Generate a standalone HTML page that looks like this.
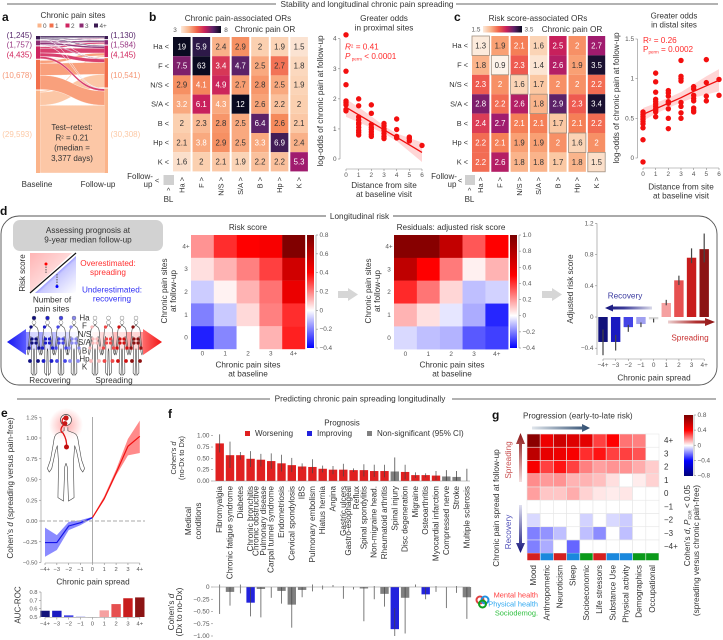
<!DOCTYPE html>
<html lang="en">
<head>
<meta charset="utf-8">
<title>Chronic pain spreading figure</title>
<style>
html,body{margin:0;padding:0;background:#fff;}
svg{display:block;font-family:"Liberation Sans",sans-serif;}
text{fill:#333;}
.t8{font-size:8.2px;}
.t75{font-size:8px;}
.t7{font-size:7.4px;}
.tick{font-size:6.4px;fill:#555;}
#panelE .tick{font-size:5.8px;}
.cell{font-size:7.8px;}
.panel{font-size:12px;font-weight:bold;fill:#111;}
.red{fill:#ff2a2a;}
.blue{fill:#3a3af0;}
</style>
</head>
<body>
<svg id="fig" width="723" height="640" viewBox="0 0 723 640">
<defs>
<linearGradient id="cbMagma" x1="0" x2="1" y1="0" y2="0">
<stop offset="0" stop-color="#fde9da"/><stop offset=".2" stop-color="#f9b48b"/><stop offset=".4" stop-color="#f0624a"/><stop offset=".6" stop-color="#c8205c"/><stop offset=".8" stop-color="#5c2268"/><stop offset="1" stop-color="#0a0a20"/>
</linearGradient>
<linearGradient id="cbRisk" x1="0" x2="0" y1="1" y2="0">
<stop offset="0" stop-color="#0000ff"/><stop offset=".333" stop-color="#fff"/><stop offset=".667" stop-color="#f00"/><stop offset="1" stop-color="#7a0000"/>
</linearGradient>
<linearGradient id="cbResid" x1="0" x2="0" y1="1" y2="0">
<stop offset="0" stop-color="#0000ff"/><stop offset=".286" stop-color="#fff"/><stop offset=".643" stop-color="#f00"/><stop offset="1" stop-color="#7a0000"/>
</linearGradient>
<linearGradient id="cbG" x1="0" x2="0" y1="1" y2="0">
<stop offset="0" stop-color="#00007a"/><stop offset=".25" stop-color="#00f"/><stop offset=".5" stop-color="#fff"/><stop offset=".75" stop-color="#f00"/><stop offset="1" stop-color="#7a0000"/>
</linearGradient>
<linearGradient id="triRed" x1="0" x2="1" y1="0" y2="1"><stop offset="0" stop-color="#ffb4b4"/><stop offset=".5" stop-color="#ffd8d8"/><stop offset=".55" stop-color="#ff8080"/></linearGradient>
<linearGradient id="triBlue" x1="1" x2="0" y1="1" y2="0"><stop offset="0" stop-color="#fff"/><stop offset=".45" stop-color="#c8c8ff"/><stop offset=".55" stop-color="#7070ff"/></linearGradient>
<linearGradient id="arrRecovery" gradientUnits="userSpaceOnUse" x1="652" x2="605" y1="0" y2="0"><stop offset="0" stop-color="#d8d8e8"/><stop offset=".6" stop-color="#3a3a98"/><stop offset="1" stop-color="#12127a"/></linearGradient>
<linearGradient id="arrSpread" gradientUnits="userSpaceOnUse" x1="668" x2="715" y1="0" y2="0"><stop offset="0" stop-color="#ecd0d0"/><stop offset=".6" stop-color="#b03030"/><stop offset="1" stop-color="#8c1414"/></linearGradient>
<linearGradient id="arrProg" gradientUnits="userSpaceOnUse" x1="532" x2="590" y1="0" y2="0"><stop offset="0" stop-color="#e0e6ec"/><stop offset="1" stop-color="#2c4a6e"/></linearGradient>
<linearGradient id="arrUp" gradientUnits="userSpaceOnUse" x1="0" x2="0" y1="482" y2="433"><stop offset="0" stop-color="#f4e0e0"/><stop offset="1" stop-color="#8c1414"/></linearGradient>
<linearGradient id="arrDown" gradientUnits="userSpaceOnUse" x1="0" x2="0" y1="505" y2="553"><stop offset="0" stop-color="#e0e0f0"/><stop offset="1" stop-color="#12127a"/></linearGradient>
<linearGradient id="glowBlue" x1="0" x2="1" y1="0" y2="0"><stop offset="0" stop-color="#2a2aff" stop-opacity=".55"/><stop offset="1" stop-color="#2a2aff" stop-opacity=".08"/></linearGradient>
<linearGradient id="glowRed" x1="0" x2="1" y1="0" y2="0"><stop offset="0" stop-color="#ff2a2a" stop-opacity=".08"/><stop offset="1" stop-color="#ff2a2a" stop-opacity=".55"/></linearGradient>
<linearGradient id="triL" x1="0" x2="1" y1="0" y2="0"><stop offset="0" stop-color="#1515f0"/><stop offset="1" stop-color="#5a5aff"/></linearGradient>
<linearGradient id="triR" x1="0" x2="1" y1="0" y2="0"><stop offset="0" stop-color="#ff6a6a"/><stop offset="1" stop-color="#f01515"/></linearGradient>
<radialGradient id="glowE"><stop offset="0" stop-color="#ff4040" stop-opacity=".45"/><stop offset="1" stop-color="#ff4040" stop-opacity="0"/></radialGradient>
<symbol id="bodyShape" overflow="visible">
<path d="M-3 15V19L-14 22Q-19 24-20 32L-25 52-30 62-27 66-23 62-17 42-14 36-12 55-13 95-4 99-2 60 0 56 2 60 4 99 13 95 12 55 14 36 17 42 23 62 27 66 30 62 25 52 20 32Q19 24 14 22L3 19V15" fill="#fff" fill-opacity=".6" stroke="#444" stroke-width=".6" vector-effect="non-scaling-stroke" stroke-linejoin="round"/>
</symbol>
</defs>

<!-- section rules -->
<g>
<line x1="7" x2="276" y1="4" y2="4" stroke="#666"/>
<line x1="456" x2="718" y1="4" y2="4" stroke="#666"/>
<text x="367" y="7" text-anchor="middle" class="t8">Stability and longitudinal chronic pain spreading</text>
<line x1="17" x2="270" y1="399" y2="399" stroke="#666"/>
<line x1="452" x2="716" y1="399" y2="399" stroke="#666"/>
<text x="360" y="401.5" text-anchor="middle" class="t8">Predicting chronic pain spreading longitudinally</text>
<text x="2" y="21" class="panel">a</text>
<text x="149" y="21" class="panel">b</text>
<text x="454" y="21" class="panel">c</text>
<text x="0" y="215" class="panel">d</text>
<text x="1" y="417" class="panel">e</text>
<text x="168" y="418" class="panel">f</text>
<text x="492" y="419" class="panel">g</text>
</g>

<!-- panel a -->
<g id="panelA">
<text x="73" y="18" text-anchor="middle" class="t8">Chronic pain sites</text>
<g id="sankeyLegend"></g>
<g id="sankeyFlows"></g>
<text x="72" y="130" text-anchor="middle" class="t75">Test–retest:</text>
<text x="72" y="140.5" text-anchor="middle" class="t75">R<tspan dy="-2" font-size="4.5">2</tspan><tspan dy="2"> = 0.21</tspan></text>
<text x="72" y="150.5" text-anchor="middle" class="t75">(median =</text>
<text x="72" y="161" text-anchor="middle" class="t75">3,377 days)</text>
<text x="37" y="187" text-anchor="middle" class="t75">Baseline</text>
<text x="98" y="187" text-anchor="middle" class="t75">Follow-up</text>
</g>

<!-- panel b -->
<g id="panelB">
<text x="238" y="21" text-anchor="middle" class="t8">Chronic pain-associated ORs</text>
<rect x="181" y="26" width="40" height="7" fill="url(#cbMagma)"/>
<text x="175" y="32" text-anchor="middle" class="tick">3</text>
<text x="226" y="32" text-anchor="middle" class="tick">8</text>
<text x="265" y="32" text-anchor="middle" class="t8">Chronic pain OR</text>
<text x="140" y="179" text-anchor="middle" class="t75">Follow-</text>
<text x="148" y="187" text-anchor="middle" class="t75">up</text>
<text x="157" y="183" text-anchor="middle" class="t7">&lt;</text>
<rect x="163.5" y="175" width="10.5" height="10" fill="#d0d0d0"/>
<text x="168.5" y="193" text-anchor="middle" class="t7">^</text>
<text x="168.5" y="202" text-anchor="middle" class="t75">BL</text>
</g>

<!-- panel b scatter -->
<g id="scatterB">
<text x="384" y="21" text-anchor="middle" class="t8">Greater odds</text>
<text x="384" y="30.5" text-anchor="middle" class="t8">in proximal sites</text>
<text transform="translate(323,101) rotate(-90)" text-anchor="middle" class="t8">log-odds of chronic pain at follow-up</text>
<text x="384" y="188" text-anchor="middle" class="t8">Distance from site</text>
<text x="384" y="197" text-anchor="middle" class="t8">at baseline visit</text>
<text x="345" y="49.5" class="t8 red"><tspan font-style="italic">R</tspan><tspan dy="-2" font-size="4.5">2</tspan><tspan dy="2"> = 0.41</tspan></text>
<text x="345" y="59" class="t8 red"><tspan font-style="italic">P</tspan><tspan dy="1.5" font-size="4.5"> perm</tspan><tspan dy="-1.5"> &lt; 0.0001</tspan></text>
</g>

<!-- panel c -->
<g id="panelC">
<text x="538" y="21" text-anchor="middle" class="t8">Risk score-associated ORs</text>
<rect x="483" y="26" width="39" height="6.5" fill="url(#cbMagma)"/>
<text x="476" y="31.5" text-anchor="middle" class="tick">1.5</text>
<text x="529" y="31.5" text-anchor="middle" class="tick">3.5</text>
<text x="572" y="32" text-anchor="middle" class="t8">Chronic pain OR</text>
<text x="444" y="179" text-anchor="middle" class="t75">Follow-</text>
<text x="452" y="187" text-anchor="middle" class="t75">up</text>
<text x="460" y="183" text-anchor="middle" class="t7">&lt;</text>
<rect x="465" y="175" width="10" height="10" fill="#d0d0d0"/>
<text x="469.5" y="193" text-anchor="middle" class="t7">^</text>
<text x="469.5" y="202" text-anchor="middle" class="t75">BL</text>
</g>

<!-- panel c scatter -->
<g id="scatterC">
<text x="674" y="18.5" text-anchor="middle" class="t75">Greater odds</text>
<text x="674" y="27.5" text-anchor="middle" class="t75">in distal sites</text>
<text transform="translate(619,98) rotate(-90)" text-anchor="middle" class="t8">log-odds of chronic pain at follow-up</text>
<text x="681" y="189.5" text-anchor="middle" class="t8">Distance from site</text>
<text x="681" y="198.5" text-anchor="middle" class="t8">at baseline visit</text>
<text x="643" y="43" class="t8 red">R<tspan dy="-2" font-size="4.5">2</tspan><tspan dy="2"> = 0.26</tspan></text>
<text x="643" y="52" class="t8 red">P<tspan dy="1.5" font-size="4.5">perm</tspan><tspan dy="-1.5"> = 0.0002</tspan></text>
</g>

<!-- panel d box -->
<g id="panelD">
<rect x="1" y="216" width="716" height="169" rx="18" fill="none" stroke="#555" stroke-width=".9"/>
<rect x="326" y="211" width="67" height="10" fill="#fff"/>
<text x="359.5" y="219" text-anchor="middle" class="t8">Longitudinal risk</text>
<rect x="13" y="220" width="150" height="31" rx="7" fill="#d2d2d2"/>
<text x="88" y="233" text-anchor="middle" class="t8">Assessing prognosis at</text>
<text x="88" y="242.5" text-anchor="middle" class="t8">9-year median follow-up</text>
<polygon points="30,253 72,253 30,292" fill="url(#triRed)"/>
<polygon points="76,256 76,293 35,293" fill="url(#triBlue)"/>
<line x1="30" y1="293" x2="76" y2="253" stroke="#111" stroke-width="1.2"/>
<line x1="46" y1="264" x2="46" y2="274" stroke="#555" stroke-width="1" stroke-dasharray="1.5 1"/>
<circle cx="46" cy="264" r="1.5" fill="#f00"/>
<line x1="57" y1="274" x2="57" y2="286" stroke="#555" stroke-width="1" stroke-dasharray="1.5 1"/>
<circle cx="57" cy="286.5" r="1.5" fill="#00f"/>
<text transform="translate(25,273) rotate(-90)" text-anchor="middle" class="t75">Risk score</text>
<text x="52" y="302.5" text-anchor="middle" class="t8">Number of</text>
<text x="52" y="311.5" text-anchor="middle" class="t8">pain sites</text>
<text x="108" y="266" text-anchor="middle" class="t8" style="fill:#ff3030">Overestimated:</text>
<text x="108" y="275" text-anchor="middle" class="t8" style="fill:#ff3030">spreading</text>
<text x="112" y="292.5" text-anchor="middle" class="t8" style="fill:#3030f5">Underestimated:</text>
<text x="112" y="301.5" text-anchor="middle" class="t8" style="fill:#3030f5">recovering</text>
<rect x="26" y="332" width="52" height="18" fill="url(#glowBlue)"/>
<rect x="92" y="332" width="52" height="18" fill="url(#glowRed)"/>
<polygon points="7,342 26,329 26,355" fill="url(#triL)"/>
<polygon points="162,342 143,329 143,355" fill="url(#triR)"/>
<g id="bodies"></g>
<text x="50" y="383" text-anchor="middle" class="t8">Recovering</text>
<text x="114" y="383" text-anchor="middle" class="t8">Spreading</text>

<g id="riskHeat">
<text x="248" y="230" text-anchor="middle" class="t8">Risk score</text>
<text transform="translate(167,291) rotate(-90)" text-anchor="middle" class="t8">Chronic pain sites</text>
<text transform="translate(176,291) rotate(-90)" text-anchor="middle" class="t8">at follow-up</text>
<text x="248" y="367.5" text-anchor="middle" class="t8">Chronic pain sites</text>
<text x="248" y="376.5" text-anchor="middle" class="t8">at baseline</text>
<rect x="307" y="235" width="7" height="113" fill="url(#cbRisk)"/>
</g>
<path d="M338 291H348V288L358 294.5 348 301V298H338Z" fill="#d6d6d6"/>
<g id="residHeat">
<text x="451" y="230" text-anchor="middle" class="t8">Residuals: adjusted risk score</text>
<text transform="translate(371,291) rotate(-90)" text-anchor="middle" class="t8">Chronic pain sites</text>
<text transform="translate(380,291) rotate(-90)" text-anchor="middle" class="t8">at follow-up</text>
<text x="452" y="367.5" text-anchor="middle" class="t8">Chronic pain sites</text>
<text x="452" y="376.5" text-anchor="middle" class="t8">at baseline</text>
<rect x="510" y="235" width="7" height="113" fill="url(#cbResid)"/>
</g>
<path d="M542 291H552V288L562 294.5 552 301V298H542Z" fill="#d6d6d6"/>
<g id="spreadBars">
<text transform="translate(573,289) rotate(-90)" text-anchor="middle" class="t8">Adjusted risk score</text>
<text x="654" y="380.5" text-anchor="middle" class="t8">Chronic pain spread</text>
<text x="625" y="298.5" text-anchor="middle" class="t8" style="fill:#3b3ba0">Recovery</text>
<text x="690" y="340.5" text-anchor="middle" class="t8" style="fill:#c83030">Spreading</text>
<path d="M652 306.5H613V304.5L605 308 613 311.5V309.5H652Z" fill="url(#arrRecovery)"/>
<path d="M668 320.5H705V318L715 322 705 326V323.5H668Z" fill="url(#arrSpread)"/>
</g>
</g>

<!-- panel e -->
<g id="panelE">
<ellipse cx="66" cy="425" rx="17" ry="17" fill="url(#glowE)"/>
<circle cx="66" cy="420" r="5.5" fill="#fff" stroke="#444" stroke-width=".7"/>
<use href="#bodyShape" transform="translate(66,414) scale(.62,.88)"/>
<text transform="translate(13,488) rotate(-90)" text-anchor="middle" class="t8">Cohen's <tspan font-style="italic">d</tspan> (spreading versus pain-free)</text>
<text x="93" y="584.5" text-anchor="middle" class="t8">Chronic pain spread</text>
<text transform="translate(20.5,605) rotate(-90)" text-anchor="middle" class="t75">AUC-ROC</text>
<path d="M66 417C61 418 61 424 65 424 60 427 60 432 63 433 66 438 67 442 66.5 447" fill="none" stroke="#e01010" stroke-width="1.3"/>
<circle cx="66" cy="418" r="2.6" fill="#c81818"/>
<circle cx="65" cy="423.5" r="2.4" fill="#c81818"/>
<circle cx="66.5" cy="447" r="2.5" fill="#c01010"/>
</g>

<!-- panel f -->
<g id="panelF">
<text x="342" y="425.5" text-anchor="middle" class="t75">Prognosis</text>
<rect x="245" y="431" width="5" height="5" fill="#e02020"/>
<text x="255" y="436" class="t75">Worsening</text>
<rect x="307" y="431" width="5" height="5" fill="#2222dd"/>
<text x="317" y="436" class="t75">Improving</text>
<rect x="367" y="431" width="5" height="5" fill="#808080"/>
<text x="377" y="436" class="t75">Non-significant (95% CI)</text>
<text transform="translate(176,458) rotate(-90)" text-anchor="middle" class="t7">Cohen's <tspan font-style="italic">d</tspan></text>
<text transform="translate(184,458) rotate(-90)" text-anchor="middle" class="t7">(no-Dx to Dx)</text>
<text transform="translate(174,612) rotate(-90)" text-anchor="middle" class="t8">Cohen's <tspan font-style="italic">d</tspan></text>
<text transform="translate(182,612) rotate(-90)" text-anchor="middle" class="t8">(Dx to no-Dx)</text>
<text transform="translate(191,521) rotate(-90)" text-anchor="middle" class="t8">Medical</text>
<text transform="translate(201,521) rotate(-90)" text-anchor="middle" class="t8">conditions</text>
</g>

<!-- panel g -->
<g id="panelG">
<text x="523" y="418.5" class="t8">Progression (early-to-late risk)</text>
<path d="M532 426.5H582V424L590 428 582 432V429.5H532Z" fill="url(#arrProg)"/>
<text transform="translate(499,508) rotate(-90)" text-anchor="middle" class="t8">Chronic pain spread at follow-up</text>
<text transform="translate(511,460) rotate(-90)" text-anchor="middle" class="t8" style="fill:#c85050">Spreading</text>
<text transform="translate(511,532) rotate(-90)" text-anchor="middle" class="t8" style="fill:#5050b8">Recovery</text>
<path d="M519 482V444H516L520.5 433 525 444H522V482Z" fill="url(#arrUp)"/>
<path d="M519 505V543H516L520.5 553 525 543H522V505Z" fill="url(#arrDown)"/>
<rect x="684" y="415" width="9" height="61" fill="url(#cbG)"/>
<text transform="translate(690,485) rotate(-90)" text-anchor="end" class="t8">Cohen's <tspan font-style="italic">d</tspan>, <tspan font-style="italic">P</tspan><tspan dy="1.5" font-size="4.5">FDR</tspan><tspan dy="-1.5"> &lt; 0.05</tspan></text>
<text transform="translate(699,485) rotate(-90)" text-anchor="end" class="t8">(spreading versus chronic pain-free)</text>
<circle cx="480" cy="600" r="3.5" fill="none" stroke="#e04040" stroke-width="2"/>
<circle cx="485" cy="600" r="3.5" fill="none" stroke="#2090e0" stroke-width="2"/>
<circle cx="482.5" cy="604" r="3.5" fill="none" stroke="#10a020" stroke-width="2"/>
<text x="538" y="597.5" text-anchor="end" class="t7" style="fill:#ff4040">Mental health</text>
<text x="538" y="606.5" text-anchor="end" class="t7" style="fill:#30a8f0">Physical health</text>
<text x="538" y="615.5" text-anchor="end" class="t7" style="fill:#30c040">Sociodemog.</text>
</g>
</svg>

<script>
/* ---------- data ---------- */
const sankeyCategories = ['0', '1', '2', '3', '4+'];
const sankeyBaseline = [29593, 10678, 4435, 1757, 1245];
const sankeyFollowUp = [30308, 10541, 4145, 1584, 1130];
const sankeyFlowMatrix = [
  [24300, 4700, 500, 70, 23],
  [5100, 4300, 1000, 200, 78],
  [800, 1250, 1700, 500, 185],
  [80, 230, 650, 550, 247],
  [28, 61, 295, 264, 597]
];

const siteLabels = ['Ha', 'F', 'N/S', 'S/A', 'B', 'Hp', 'K'];
const painOrValues = [
  [19, 5.9, 2.4, 2.9, 2, 1.9, 1.5],
  [7.5, 63, 3.4, 4.7, 2.5, 2.7, 1.8],
  [2.9, 4.1, 4.9, 2.7, 2.8, 2.5, 1.9],
  [3.2, 6.1, 4.3, 12, 2.6, 2.2, 2],
  [2, 2.3, 2.8, 2.5, 6.4, 2.6, 2.1],
  [2.1, 3.8, 2.9, 2.5, 3.3, 6.9, 2.4],
  [1.6, 2, 2.1, 1.9, 2.2, 2.2, 5.3]
];
/* the printed OR and the cell shade differ slightly in the source; these offsets are the shade residuals */
const painOrShadeOffsets = [
  [0, 2.3, 0, 0, 0, 0, 0],
  [-1, 0, 1.2, 2.3, 0, 0.8, 0],
  [0, -1, 0, 0, 0, 0, 0],
  [-0.7, -1.1, -1.8, 0, 0, 0, 0],
  [0, 0, 0, 0, 0.6, 0.4, 0],
  [0, -1.3, 0, 0, -0.8, 0.7, 0],
  [0, 0, 0, 0, 0, 0, 0.7]
];
const riskOrValues = [
  [1.3, 1.9, 2.1, 1.6, 2.5, 2, 2.7],
  [1.8, 0.9, 2.3, 1.4, 2.6, 1.9, 3.5],
  [2.3, 2, 1.6, 1.7, 2, 2, 2.2],
  [2.8, 2.2, 2.6, 1.8, 2.9, 2.3, 3.4],
  [2.4, 2.7, 2.1, 2.1, 1.7, 2.1, 2.2],
  [2.2, 2.1, 1.9, 1.9, 2, 1.6, 2],
  [2.2, 2.6, 1.8, 1.8, 1.7, 1.8, 1.5]
];

const distanceTicks = [0, 1, 2, 3, 4, 5, 6];
const proximalTicks = [0, 1, 2, 3, 4];
const proximalPoints = [
  [4.13, 2.92, 2.47, 1.93, 1.87, 1.8, 1.65, 1.6],
  [2.0, 1.77, 1.4, 1.3, 1.2, 1.15, 1.05, 0.95, 0.88, 0.8],
  [1.8, 1.52, 1.15, 1.05, 0.98, 0.9, 0.82, 0.75],
  [1.18, 1.1, 1.0, 0.95, 0.85, 0.75, 0.68],
  [1.33, 0.98, 0.75, 0.7],
  [0.73, 0.68, 0.6],
  [0.45]
];
const proximalFit = [1.72, 1.47, 1.22, 0.97, 0.72, 0.47, 0.22];
const proximalBandLow = [1.4, 1.22, 1.04, 0.85, 0.6, 0.25, -0.1];
const proximalBandHigh = [2.0, 1.72, 1.42, 1.1, 0.85, 0.7, 0.55];

const distalTicks = [0, 0.5, 1, 1.5];
const distalPoints = [
  [0.58, 0.55, 0.52, 0.49, 0.46, 0.43, 0.38, 0.23, -0.05],
  [1.07, 0.96, 0.83, 0.74, 0.71, 0.68, 0.65, 0.62, 0.6, 0.58, 0.52],
  [0.85, 0.82, 0.78, 0.71, 0.69, 0.62, 0.5, 0.37],
  [1.23, 1.03, 1.0, 0.97, 0.7, 0.65, 0.57, 0.5],
  [0.9, 0.87, 0.79, 0.75, 0.72, 0.63, 0.6, 0.58],
  [1.24, 0.95, 0.78, 0.72],
  [0.99, 0.79]
];
const distalFit = [0.55, 0.62, 0.69, 0.76, 0.84, 0.91, 0.98];
const distalBandLow = [0.47, 0.56, 0.63, 0.7, 0.76, 0.8, 0.84];
const distalBandHigh = [0.63, 0.69, 0.76, 0.83, 0.93, 1.03, 1.12];

const baselineSites = ['0', '1', '2', '3', '4+'];
const followUpSites = ['4+', '3', '2', '1', '0'];
const riskScoreGrid = [
  [0.17, 0.33, 0.4, 0.42, 0.78],
  [0.05, 0.12, 0.2, 0.3, 0.54],
  [-0.08, 0.02, 0.12, 0.22, 0.46],
  [-0.2, -0.085, 0.06, 0.2, 0.33],
  [-0.35, -0.19, 0, 0.12, 0.35]
];
const riskColorbarTicks = [0.8, 0.6, 0.4, 0.2, 0, -0.2, -0.4];
const residualGrid = [
  [0.95, 0.95, 0.73, 0.33, 0.5],
  [0.74, 0.5, 0.26, 0.03, 0.15],
  [0.42, 0.27, 0.08, -0.1, -0.07],
  [0.15, 0.06, -0.04, -0.13, -0.34],
  [-0.06, -0.1, -0.12, -0.26, -0.3]
];
const residualColorbarTicks = [1.0, 0.8, 0.6, 0.4, 0.2, 0, -0.2, -0.4];

const spreadCategories = ['\u22124+', '\u22123', '\u22122', '\u22121', '0', '1', '2', '3', '4+'];
const adjustedRisk = [-0.32, -0.32, -0.13, -0.09, -0.03, 0.18, 0.47, 0.76, 0.87];
const adjustedRiskLow = [-0.49, -0.43, -0.19, -0.13, -0.07, 0.15, 0.41, 0.69, 0.7];
const adjustedRiskHigh = [-0.16, -0.23, -0.1, -0.07, -0.02, 0.22, 0.53, 0.88, 1.07];
const adjustedRiskTicks = [1.2, 0.8, 0.4, 0, -0.4];

const effectTicks = [1.25, 1, 0.75, 0.5, 0.25, 0, -0.25, -0.5];
const effectBlue = [-0.26, -0.26, -0.06, -0.02, 0.04];
const effectBlueLow = [-0.43, -0.35, -0.11, -0.05, 0.03];
const effectBlueHigh = [-0.08, -0.17, -0.01, 0.01, 0.05];
const effectRed = [0.04, 0.27, 0.58, 0.9, 1.02];
const effectRedLow = [0.03, 0.25, 0.55, 0.79, 0.82];
const effectRedHigh = [0.05, 0.3, 0.62, 0.99, 1.21];
const aucTicks = [0.8, 0.7, 0.6, 0.5];
const aucValues = [0.575, 0.575, 0.52, 0.505, 0.5, 0.58, 0.655, 0.725, 0.735];

const conditionNames = ['Fibromyalgia', 'Chronic fatigue syndrome', 'Diabetes', 'Chronic bronchitis', 'Chronic obstructive|Pulmonary disease', 'Carpal tunnel syndrome', 'Endometriosis', 'Cervical spondylosis', 'IBS', 'Pulmonary embolism', 'Hiatus hernia', 'Angina', 'Gastric ulcers', 'Gastro-esophageal|Reflux', 'Spinal spondylitis', 'Non-migraine head.', 'Rheumatoid arthritis', 'Spinal injury', 'Disc degeneration', 'Migraine', 'Osteoarthritis', 'Myocardial infarction', 'Compressed nerve', 'Stroke', 'Multiple sclerosis'];
const onsetD = [0.83, 0.57, 0.57, 0.49, 0.47, 0.44, 0.39, 0.35, 0.32, 0.31, 0.27, 0.25, 0.25, 0.24, 0.24, 0.22, 0.22, 0.21, 0.2, 0.13, 0.13, 0.12, 0.1, 0.09, 0];
const onsetLow = [0.63, 0.29, 0.47, 0.31, 0.32, 0.27, 0.21, 0.2, 0.26, 0.17, 0.19, 0.15, 0.1, 0.2, 0.1, 0.09, 0.08, 0, 0.04, 0.07, 0.08, 0.02, 0, 0, 0];
const onsetHigh = [1.03, 0.87, 0.64, 0.66, 0.6, 0.61, 0.58, 0.51, 0.39, 0.48, 0.34, 0.33, 0.38, 0.28, 0.37, 0.36, 0.36, 0.52, 0.36, 0.19, 0.17, 0.22, 0.24, 0.22, 0.27];
const onsetStatus = ['W', 'W', 'W', 'W', 'W', 'W', 'W', 'W', 'W', 'W', 'W', 'W', 'W', 'W', 'W', 'W', 'W', 'N', 'W', 'W', 'W', 'W', 'N', 'N', 'N'];
const remitD = [0, -0.1, 0, -0.32, -0.04, 0, -0.08, -0.36, -0.06, 0, 0, 0, 0, 0, -0.03, 0, -0.14, -0.86, -0.22, 0, -0.15, 0, 0, 0, -0.21];
const remitLow = [-0.55, -0.38, -0.13, -0.6, -0.62, -0.22, -0.34, -0.83, -0.21, -0.09, -0.05, 0, -0.24, -0.05, -0.7, -0.25, -0.4, -1.0, -0.95, 0, -0.25, -0.1, -0.43, -0.12, -0.65];
const remitHigh = [0.05, 0, 0.05, 0, 0, 0, 0, 0, 0, 0.05, 0.03, 0.04, 0.02, 0, 0, 0.02, 0, -0.43, 0, 0.05, 0, 0.02, 0, 0.02, 0];
const remitStatus = ['N', 'N', 'N', 'I', 'N', 'N', 'N', 'N', 'N', 'N', 'N', 'N', 'N', 'N', 'N', 'N', 'N', 'I', 'N', 'N', 'I', 'N', 'N', 'N', 'N'];
const onsetTicks = [1, 0.75, 0.5, 0.25, 0];
const remitTicks = [0, -0.25, -0.5, -0.75, -1];

const domainNames = ['Mood', 'Anthropometric', 'Neuroticism', 'Sleep', 'Socioeconomic', 'Life stressors', 'Substance Use', 'Physical activity', 'Demographics', 'Occupational'];
const domainTypes = ['mental', 'physical', 'mental', 'physical', 'socio', 'mental', 'physical', 'physical', 'socio', 'socio'];
const spreadRows = ['4+', '3', '2', '1', '0', '\u22121', '\u22122', '\u22123', '\u22124+'];
const domainGrid = [
  [0.75, 0.45, 0.55, 0.5, 0.48, 0.3, 0.4, 0.22, 0.2, 0],
  [0.6, 0.47, 0.45, 0.42, 0.33, 0.37, 0.3, 0.3, 0.27, 0],
  [0.42, 0.3, 0.37, 0.3, 0.2, 0.15, 0.17, 0.17, 0.13, 0.08],
  [0.18, 0.16, 0.17, 0.12, 0.12, 0.1, 0.05, 0, 0.03, 0.07],
  [0.15, 0.09, 0.09, 0.13, 0.07, 0.04, 0.03, 0.04, 0, 0],
  [0, 0, 0, 0, 0, 0, 0, 0, 0, 0],
  [-0.06, 0, 0, 0, -0.07, 0, -0.06, -0.08, 0, 0],
  [-0.2, -0.17, -0.1, 0, -0.1, -0.18, 0, -0.1, 0, 0],
  [-0.2, -0.13, 0, -0.24, 0, 0, 0, 0, 0, 0]
];
const domainColorbarTicks = [0.8, 0.4, 0, -0.4, -0.8];

/* ---------- helpers ---------- */
const NS = 'http://www.w3.org/2000/svg';
const byId = id => document.getElementById(id);
function make(parent, tag, attrs) {
  const el = document.createElementNS(NS, tag);
  for (const k in attrs) el.setAttribute(k, attrs[k]);
  parent.appendChild(el);
  return el;
}
function label(parent, x, y, str, cls, anchor, rotated) {
  const el = make(parent, 'text', { x: x, y: y, class: cls, 'text-anchor': anchor || 'middle' });
  if (rotated) el.setAttribute('transform', 'rotate(-90 ' + x + ' ' + y + ')');
  el.textContent = str;
  
  
  return el;
}
function linear(d0, d1, r0, r1) { return v => r0 + (v - d0) * (r1 - r0) / (d1 - d0); }
function ramp(stops) {
  return v => {
    if (v <= stops[0][0]) return 'rgb(' + stops[0][1].join(',') + ')';
    for (let i = 1; i < stops.length; i++) {
      if (v <= stops[i][0]) {
        const t = (v - stops[i - 1][0]) / (stops[i][0] - stops[i - 1][0]);
        const a = stops[i - 1][1], b = stops[i][1];
        return 'rgb(' + a.map((c, k) => Math.round(c + (b[k] - c) * t)).join(',') + ')';
      }
    }
    return 'rgb(' + stops[stops.length - 1][1].join(',') + ')';
  };
}
function axisLine(parent, x1, y1, x2, y2) {
  const el = make(parent, 'line', { x1: x1, y1: y1, x2: x2, y2: y2, stroke: '#888', 'stroke-width': 0.6 });
  
  
  return el;
}
function leftTicks(parent, ticks, y, x, fmt) {
  ticks.forEach(t => {
    axisLine(parent, x - 2, y(t), x, y(t));
    label(parent, x - 3.5, y(t) + 2, fmt ? fmt(t) : String(t).replace('-', '\u2212'), 'tick', 'end');
  });
}
function rightTicks(parent, ticks, y, x, fmt) {
  axisLine(parent, x, y(ticks[0]), x, y(ticks[ticks.length - 1]));
  ticks.forEach(t => {
    axisLine(parent, x, y(t), x + 2, y(t));
    label(parent, x + 3.5, y(t) + 2, fmt ? fmt(t) : String(t).replace('-', '\u2212'), 'tick', 'start');
  });
}
function bottomTicks(parent, ticks, x, y, labels) {
  ticks.forEach((t, i) => {
    axisLine(parent, x(t), y, x(t), y + 2);
    label(parent, x(t), y + 8, labels ? labels[i] : String(t), 'tick');
  });
}

/* ---------- panel a: sankey ---------- */
const sankeyColors = ['#fbb48a', '#f2704c', '#cf2460', '#8a2a72', '#3b1a52'];
const sankeyFlowColors = ['#fcc7a6', '#f9a07c', '#d8406e', '#8f3578', '#3f2058'];
const sankeyLabelColors = ['#fcc9a6', '#f59878', '#d0245c', '#9a3a84', '#5a2a6e'];
(function drawSankey() {
  const g = byId('sankeyFlows');
  const total = sankeyBaseline.reduce((a, b) => a + b, 0);
  const scale = 133 / total, gap = 1;
  const leftX = 36, leftW = 4, rightX = 104.5, rightW = 3.5;
  const leftTop = [], rightTop = [];
  let yl = 36, yr = 36;
  for (let k = 4; k >= 0; k--) {
    leftTop[k] = yl; yl += sankeyBaseline[k] * scale + gap;
    rightTop[k] = yr; yr += sankeyFollowUp[k] * scale + gap;
  }
  const leftCursor = leftTop.slice(), rightCursor = rightTop.slice();
  const bands = [];
  for (let s = 4; s >= 0; s--) {
    for (let t = 4; t >= 0; t--) {
      bands.push({ s: s, t: t, h: sankeyFlowMatrix[s][t] * scale, y0: leftCursor[s] });
      leftCursor[s] += sankeyFlowMatrix[s][t] * scale;
    }
  }
  for (let t = 4; t >= 0; t--) {
    for (let s = 4; s >= 0; s--) {
      const b = bands.find(q => q.s === s && q.t === t);
      b.y1 = rightCursor[t];
      rightCursor[t] += b.h;
    }
  }
  bands.sort((a, b) => a.s - b.s);
  const x0 = leftX + leftW, x1 = rightX, mx = (x0 + x1) / 2;
  bands.forEach(b => {
    const d = 'M' + x0 + ' ' + b.y0 + 'C' + mx + ' ' + b.y0 + ' ' + mx + ' ' + b.y1 + ' ' + x1 + ' ' + b.y1 +
      'V' + (b.y1 + b.h) + 'C' + mx + ' ' + (b.y1 + b.h) + ' ' + mx + ' ' + (b.y0 + b.h) + ' ' + x0 + ' ' + (b.y0 + b.h) + 'Z';
    const flow = make(g, 'path', { d: d, fill: sankeyFlowColors[b.s], stroke: '#fff', 'stroke-width': 0.35 });
    
    
  });
  sankeyCategories.forEach((c, k) => {
    const lb = make(g, 'rect', { x: leftX, y: leftTop[k], width: leftW, height: sankeyBaseline[k] * scale, fill: sankeyColors[k] });
    
    
    const rb = make(g, 'rect', { x: rightX, y: rightTop[k], width: rightW, height: sankeyFollowUp[k] * scale, fill: sankeyColors[k] });
    
    
    const fmt = n => '(' + n.toLocaleString('en-US') + ')';
    const ly = k === 4 ? 38 : k === 3 ? 47.5 : k === 2 ? 57.5 : k === 1 ? 78 : 137;
    const lt = label(g, 32, ly, fmt(sankeyBaseline[k]), 't75', 'end');
    lt.style.fill = sankeyLabelColors[k];
    const rt = label(g, 110.5, ly, fmt(sankeyFollowUp[k]), 't75', 'start');
    rt.style.fill = sankeyLabelColors[k];
  });
  const lg = byId('sankeyLegend');
  const legendX = [37.5, 49.5, 65.5, 79.5, 94];
  sankeyCategories.forEach((c, k) => {
    const sw = make(lg, 'rect', { x: legendX[k], y: 23.5, width: 4, height: 4, fill: sankeyColors[k] });
    
    
    label(lg, legendX[k] + 5.5, 28, c, 'tick', 'start');
  });
})();

/* ---------- panels b, c: OR heatmaps ---------- */
const painOrRamp = ramp([[1, [253, 240, 230]], [1.5, [251, 227, 210]], [2, [251, 208, 176]], [2.5, [249, 169, 127]], [3, [245, 138, 92]], [4, [238, 90, 80]], [5, [200, 32, 92]], [6, [160, 27, 110]], [7, [92, 34, 104]], [8, [47, 26, 74]], [12, [10, 10, 32]]]);
const riskOrRamp = ramp([[0.9, [253, 243, 234]], [1.3, [252, 235, 220]], [1.5, [251, 223, 202]], [1.7, [251, 200, 163]], [1.9, [249, 160, 116]], [2.1, [245, 127, 87]], [2.3, [238, 90, 80]], [2.5, [200, 32, 92]], [2.7, [160, 27, 110]], [2.9, [92, 34, 104]], [3.4, [26, 16, 48]]]);
function drawOrHeatmap(g, values, offsets, colorFor, whiteAt, x0, dx, w, y0, dy, outlineDiag, labelX) {
  values.forEach((row, r) => {
    const y = y0 + r * dy;
    label(g, labelX, y + dy / 2 + 2.5, siteLabels[r] + ' <', 't7', 'end');
    row.forEach((v, c) => {
      const x = x0 + c * dx;
      const cell = make(g, 'rect', { x: x, y: y, width: w, height: dy, fill: colorFor(v + (offsets ? offsets[r][c] : 0)) });
      
      
    });
  });
  values.forEach((row, r) => {
    row.forEach((v, c) => {
      const x = x0 + c * dx, y = y0 + r * dy;
      if (outlineDiag && r === c) {
        const box = make(g, 'rect', { x: x, y: y, width: w, height: dy, fill: 'none', stroke: '#a09080', 'stroke-width': 0.8 });
        
        
      }
      const t = label(g, x + w / 2, y + dy / 2 + 2.7, String(v), 'cell');
      t.style.fill = v >= whiteAt ? '#fff' : '#333';
    });
  });
  siteLabels.forEach((s, c) => {
    label(g, x0 + c * dx + w / 2 + 2.5, 177, s + ' >', 't7', 'end', true);
  });
}
drawOrHeatmap(byId('panelB'), painOrValues, painOrShadeOffsets, painOrRamp, 3.2, 173, 19.55, 17.6, 37, 19.2, false, 169);
drawOrHeatmap(byId('panelC'), riskOrValues, null, riskOrRamp, 2, 472, 19.3, 17.4, 36, 19.4, true, 468);

/* ---------- scatters ---------- */
function drawScatter(g, points, fit, low, high, x, y, yTicks, spineX, spineTop, spineBottom, bottomY, tickFmt) {
  const coords = distanceTicks.map(d => x(d));
  const bandD = 'M' + coords.map((cx, i) => cx + ' ' + y(high[i])).join('L') + 'L' + coords.slice().reverse().map((cx, i) => cx + ' ' + y(low[low.length - 1 - i])).join('L') + 'Z';
  const band = make(g, 'path', { d: bandD, fill: '#ff0000', 'fill-opacity': 0.16 });
  
  
  points.forEach((list, d) => {
    list.forEach(v => {
      const p = make(g, 'circle', { cx: x(d), cy: y(v), r: 2.7, fill: '#f30f0f' });
      
      
    });
  });
  const line = make(g, 'polyline', { points: coords.map((cx, i) => cx + ',' + y(fit[i])).join(' '), fill: 'none', stroke: '#f01010', 'stroke-width': 1.3 });
  
  
  axisLine(g, spineX, spineTop, spineX, spineBottom);
  leftTicks(g, yTicks, y, spineX, tickFmt);
  axisLine(g, x(0), bottomY, x(6), bottomY);
  bottomTicks(g, distanceTicks, x, bottomY);
}
drawScatter(byId('scatterB'), proximalPoints, proximalFit, proximalBandLow, proximalBandHigh, linear(0, 6, 346, 422), linear(0, 4, 159, 38.7), proximalTicks, 340, 38.7, 159, 169);
drawScatter(byId('scatterC'), distalPoints, distalFit, distalBandLow, distalBandHigh, linear(0, 6, 643, 719), linear(0, 1.5, 158, 39), distalTicks, 637.5, 39, 158, 168);

/* ---------- panel d: body maps ---------- */
const bodyPalettes = ['#0f0f80', '#1c1cc8', '#4444e8', '#8a8af0', '#f8b8b8', '#f04848', '#d01010', '#8c1010'];
const bodySpacing = [34, 47.5, 61, 74, 95, 108.5, 122, 136];
const bodySiteMarks = [[-3, 327], [-2, 339], [2, 339], [-2, 343], [2, 343], [-5, 348], [5, 348], [-4, 361], [4, 361]];
siteLabels.forEach((s, i) => {
  label(byId('bodies'), 84.5, 320.5 + i * 8.2, s, 't75');
});
bodySpacing.forEach((cx, i) => {
  const g = byId('bodies');
  const recovering = i < 4;
  const b = make(g, 'use', { href: '#bodyShape', transform: 'translate(' + cx + ',314) scale(.22,.62)' });
  
  
  const head = make(g, 'circle', { cx: cx, cy: 318, r: 2, fill: recovering ? bodyPalettes[i] : '#fff', stroke: '#666', 'stroke-width': 0.4 });
  
  
  const neck = make(g, 'circle', { cx: cx, cy: 322.5, r: 2, fill: '#fff', stroke: '#666', 'stroke-width': 0.4 });
  
  
  bodySiteMarks.forEach(m => {
    const d = make(g, 'circle', { cx: cx + m[0], cy: m[1], r: m[1] === 361 ? 1.9 : 1.6, fill: bodyPalettes[i] });
    
    
  });
});

/* ---------- panel d: risk heatmaps ---------- */
const riskRamp = ramp([[-0.4, [0, 0, 255]], [0, [255, 255, 255]], [0.4, [255, 0, 0]], [0.8, [122, 0, 0]]]);
const residRamp = ramp([[-0.4, [0, 0, 255]], [0, [255, 255, 255]], [0.5, [255, 0, 0]], [1, [122, 0, 0]]]);
function drawRiskHeatmap(g, grid, colorFor, x0, y0, size, cbTicks, cbScale, cbX) {
  grid.forEach((row, r) => {
    row.forEach((v, c) => {
      const cell = make(g, 'rect', { x: x0 + c * size, y: y0 + r * size, width: size + 0.2, height: size + 0.2, fill: colorFor(v) });
      
      
    });
  });
  followUpSites.forEach((s, r) => { label(g, x0 - 5, y0 + r * size + size / 2 + 2, s, 'tick', 'middle'); });
  baselineSites.forEach((s, c) => { label(g, x0 + c * size + size / 2, y0 + 5 * size + 6.5, s, 'tick'); });
  rightTicks(g, cbTicks, cbScale, cbX, t => (cbTicks[0] === 1 && t === 1) ? '1.0' : String(t).replace('-', '\u2212'));
}
drawRiskHeatmap(byId('riskHeat'), riskScoreGrid, riskRamp, 191, 235, 22.8, riskColorbarTicks, linear(-0.4, 0.8, 348, 235), 316);
drawRiskHeatmap(byId('residHeat'), residualGrid, residRamp, 394, 235, 22.85, residualColorbarTicks, linear(-0.4, 1, 348, 235), 519);

/* ---------- panel d: adjusted risk bars ---------- */
const spreadBarColors = ['#12127a', '#1a1ac0', '#4444e6', '#a0a0f0', '#d8d8d8', '#f5a0a0', '#e65050', '#c81c1c', '#8c1414'];
(function drawSpreadBars() {
  const g = byId('spreadBars');
  const y = linear(0, 0.4, 317, 285.8);
  const x = i => 603 + 12.65 * i;
  spreadCategories.forEach((c, i) => {
    const v = adjustedRisk[i];
    const bar = make(g, 'rect', { x: x(i) - 4.7, y: Math.min(y(0), y(v)), width: 9.4, height: Math.abs(y(v) - y(0)), fill: spreadBarColors[i] });
    
    
    const err = make(g, 'line', { x1: x(i), x2: x(i), y1: y(adjustedRiskLow[i]), y2: y(adjustedRiskHigh[i]), stroke: '#444', 'stroke-width': 1.2 });
    
    
  });
  axisLine(g, 597, y(1.2), 597, 355);
  leftTicks(g, adjustedRiskTicks, y, 597);
  axisLine(g, x(0), 359, x(8), 359);
  bottomTicks(g, spreadCategories.map((c, i) => i), x, 359, spreadCategories);
})();

/* ---------- panel e ---------- */
(function drawEffect() {
  const g = byId('panelE');
  const y = linear(0, 1, 521, 438);
  const x = i => 45 + 11.85 * i;
  function band(low, high, start, fill, name) {
    const up = high.map((v, i) => x(start + i) + ' ' + y(v)).join('L');
    const dn = low.map((v, i) => x(start + i) + ' ' + y(v)).reverse().join('L');
    const b = make(g, 'path', { d: 'M' + up + 'L' + dn + 'Z', fill: fill, 'fill-opacity': 0.55 });
    
    
  }
  function line(vals, start, stroke, name) {
    const l = make(g, 'polyline', { points: vals.map((v, i) => x(start + i) + ',' + y(v)).join(' '), fill: 'none', stroke: stroke, 'stroke-width': 1.2 });
    
    
  }
  const vertical = make(g, 'line', { x1: x(4), x2: x(4), y1: 417, y2: 563, stroke: '#888', 'stroke-width': 0.7 });
  
  
  band(effectBlueLow, effectBlueHigh, 0, '#2a2aff', 'recovery-ci-band');
  band(effectRedLow, effectRedHigh, 4, '#ff2a2a', 'spreading-ci-band');
  line(effectBlue, 0, '#1515e8', 'recovery-effect-line');
  line(effectRed, 4, '#f01010', 'spreading-effect-line');
  const dash = make(g, 'line', { x1: 41, x2: 145, y1: y(0), y2: y(0), stroke: '#aaa', 'stroke-width': 1, 'stroke-dasharray': '4 2' });
  
  
  axisLine(g, 41, y(1.25), 41, y(-0.5));
  leftTicks(g, effectTicks, y, 41, t => t.toFixed(2).replace('-', '\u2212'));
  axisLine(g, x(0), 563, x(8), 563);
  bottomTicks(g, spreadCategories.map((c, i) => i), x, 563, spreadCategories);

  const ya = linear(0.5, 0.8, 617, 592);
  spreadCategories.forEach((c, i) => {
    const bar = make(g, 'rect', { x: x(i) - 4.7, y: ya(aucValues[i]), width: 9.4, height: Math.max(0.3, ya(0.5) - ya(aucValues[i])), fill: spreadBarColors[i] });
    
    
  });
  axisLine(g, 41, ya(0.8), 41, ya(0.5));
  leftTicks(g, aucTicks, ya, 41);
  axisLine(g, x(0), 617.5, x(8), 617.5);
  bottomTicks(g, spreadCategories.map((c, i) => i), x, 617.5, spreadCategories);
})();

/* ---------- panel f ---------- */
const statusFill = { W: '#e02020', I: '#2222dd', N: '#808080' };
(function drawConditions() {
  const g = byId('panelF');
  const x = i => 219.7 + 10.3 * i;
  const yTop = linear(0, 1, 481, 435.7);
  const yBot = linear(0, -1, 587, 636);
  conditionNames.forEach((name, i) => {
    const topBar = make(g, 'rect', { x: x(i) - 4.2, y: yTop(onsetD[i]), width: 8.4, height: yTop(0) - yTop(onsetD[i]), fill: statusFill[onsetStatus[i]] });
    
    
    const topErr = make(g, 'line', { x1: x(i), x2: x(i), y1: yTop(onsetLow[i]), y2: yTop(onsetHigh[i]), stroke: onsetStatus[i] === 'N' ? '#333' : '#444', 'stroke-width': 0.7 });
    
    
    const botBar = make(g, 'rect', { x: x(i) - 4.2, y: yBot(0), width: 8.4, height: yBot(remitD[i]) - yBot(0), fill: statusFill[remitStatus[i]] });
    
    
    const botErr = make(g, 'line', { x1: x(i), x2: x(i), y1: yBot(remitHigh[i]), y2: yBot(remitLow[i]), stroke: '#444', 'stroke-width': 0.7 });
    
    
    const parts = name.split('|');
    if (parts.length === 2) {
      label(g, x(i) - 2.5, 486, parts[0], 't8', 'end', true);
      label(g, x(i) + 5.2, 486, parts[1], 't8', 'end', true);
    } else {
      label(g, x(i) + 2.5, 486, name, 't8', 'end', true);
    }
  });
  axisLine(g, 213, yTop(0), 470, yTop(0));
  axisLine(g, 213, yBot(0), 470, yBot(0));
  leftTicks(g, onsetTicks, yTop, 213, t => t.toFixed(2));
  leftTicks(g, remitTicks, yBot, 213, t => t === 0 ? '0' : t.toFixed(2).replace('-', '\u2212'));
})();

/* ---------- panel g ---------- */
const domainRamp = ramp([[-0.8, [0, 0, 122]], [-0.4, [0, 0, 255]], [0, [255, 255, 255]], [0.4, [255, 0, 0]], [0.8, [122, 0, 0]]]);
const domainTypeFill = { mental: '#d42020', physical: '#1a88dd', socio: '#0a9a1a' };
(function drawDomains() {
  const g = byId('panelG');
  const x0 = 527, y0 = 434, cw = 13.2, ch = 13.25;
  domainGrid.forEach((row, r) => {
    row.forEach((v, c) => {
      const cell = make(g, 'rect', { x: x0 + c * cw, y: y0 + r * ch, width: cw, height: ch, fill: domainRamp(v), stroke: '#e6e6e6', 'stroke-width': 0.6 });
      
      
    });
    label(g, 664, y0 + r * ch + ch / 2 + 2.5, spreadRows[r], 't75', 'start');
  });
  domainNames.forEach((name, c) => {
    const strip = make(g, 'rect', { x: x0 + c * cw + 0.3, y: y0 + 9 * ch, width: cw - 0.6, height: 7, fill: domainTypeFill[domainTypes[c]] });
    
    
    label(g, x0 + c * cw + cw / 2 + 2.5, 565, name, 't8', 'end', true);
  });
  rightTicks(g, domainColorbarTicks, linear(-0.8, 0.8, 475.5, 415), 694);
})();
</script>
</body>
</html>
